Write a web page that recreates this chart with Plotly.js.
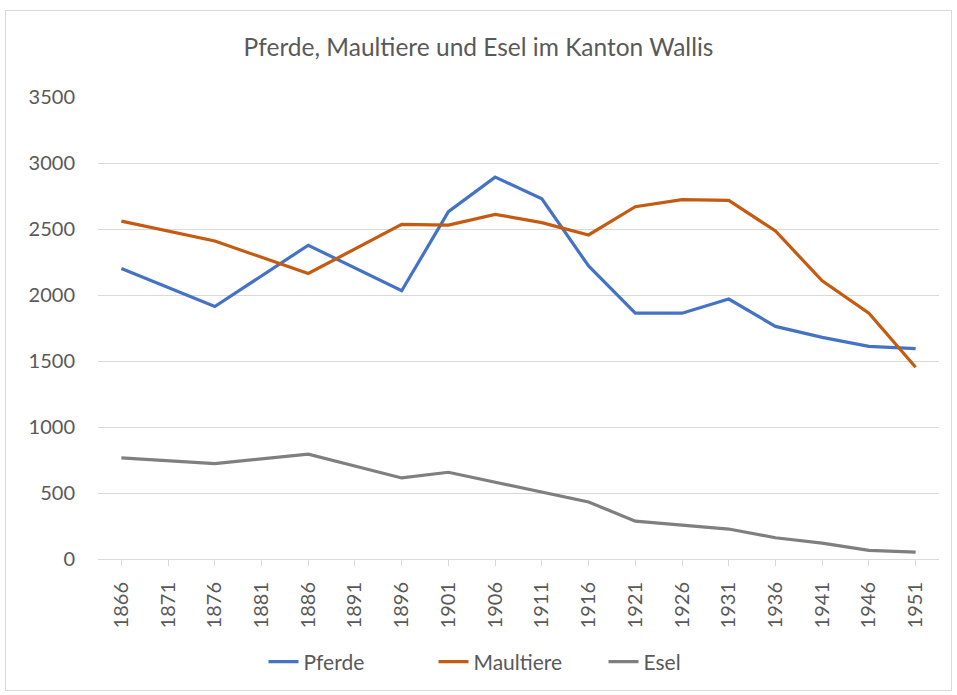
<!DOCTYPE html>
<html>
<head>
<meta charset="utf-8">
<script src="https://cdn.plot.ly/plotly-3.0.1.min.js"></script>
<style>
html,body{margin:0;padding:0;background:#fff;}
#wrap{position:relative;width:957px;height:695px;}
#chart{position:absolute;left:0;top:0;width:957px;height:695px;}
#frame{position:absolute;left:5px;top:10px;width:945px;height:679px;border:1px solid #d9d9d9;pointer-events:none;}
</style>
</head>
<body>
<div id="wrap"><div id="chart"></div><div id="frame"></div></div>
<script>
const years = [1866,1871,1876,1881,1886,1891,1896,1901,1906,1911,1916,1921,1926,1931,1936,1941,1946,1951];
const pferde =    [2200,null,1913,null,2377,null,2032,2631,2893,2729,2220,1863,1862,1969,1762,1679,1611,1594];
const maultiere = [2560,null,2409,null,2163,null,2535,2530,2611,2548,2455,2669,2722,2717,2485,2107,1863,1453];
const esel =      [766,null,723,null,794,null,614,657,581,505,432,287,260,227,161,120,65,52];
const seriesNames = ['Pferde','Maultiere','Esel'];
const colors = ['#4472C4','#C55A11','#7F7F7F'];
const title = 'Pferde, Maultiere und Esel im Kanton Wallis';
const yTicks = [0,500,1000,1500,2000,2500,3000,3500];

const font = "Lato, 'Open Sans', sans-serif";
const traces = [pferde, maultiere, esel].map((vals, i) => ({
  x: years, y: vals, type: 'scatter', mode: 'lines', name: seriesNames[i],
  connectgaps: true,
  line: {color: colors[i], width: 3.2, shape: 'linear'}
}));

const layout = {
  width: 957, height: 695,
  margin: {l: 97.6, r: 17.6, t: 96.5, b: 136},
  paper_bgcolor: '#fff', plot_bgcolor: '#fff',
  font: {family: font, color: '#595959', size: 20},
  title: {text: title, font: {family: font, size: 24.5, color: '#595959'}, x: 0.5, xanchor: 'center', y: 1 - 47/695, yanchor: 'middle'},
  showlegend: true,
  legend: {orientation: 'h', x: 0.5, xanchor: 'center', y: -(662-559)/(559-96.5), yanchor: 'middle', font: {size: 21, color: '#595959'}, itemwidth: 30, traceorder: 'normal', entrywidth: 125, entrywidthmode: 'pixels'},
  xaxis: {
    range: [1863.5, 1953.5], tickmode: 'array', tickvals: years, ticktext: years.map(String),
    tickangle: -90, showgrid: false, zeroline: false, showline: false,
    ticks: 'outside', ticklen: 6, tickcolor: '#d9d9d9', tickwidth: 1, ticklabelstandoff: 8,
    tickfont: {size: 20, color: '#595959'}, fixedrange: true
  },
  yaxis: {
    range: [0, 3500], tickmode: 'array', tickvals: yTicks, ticktext: yTicks.map(String),
    showgrid: true, gridcolor: '#d9d9d9', gridwidth: 1, zeroline: true, zerolinecolor: '#d9d9d9', zerolinewidth: 1,
    showline: false, ticks: '', ticklabelstandoff: 22,
    tickfont: {size: 20, color: '#595959'}, fixedrange: true
  }
};
Plotly.newPlot('chart', traces, layout, {displayModeBar: false, staticPlot: true});
</script>
</body>
</html>
